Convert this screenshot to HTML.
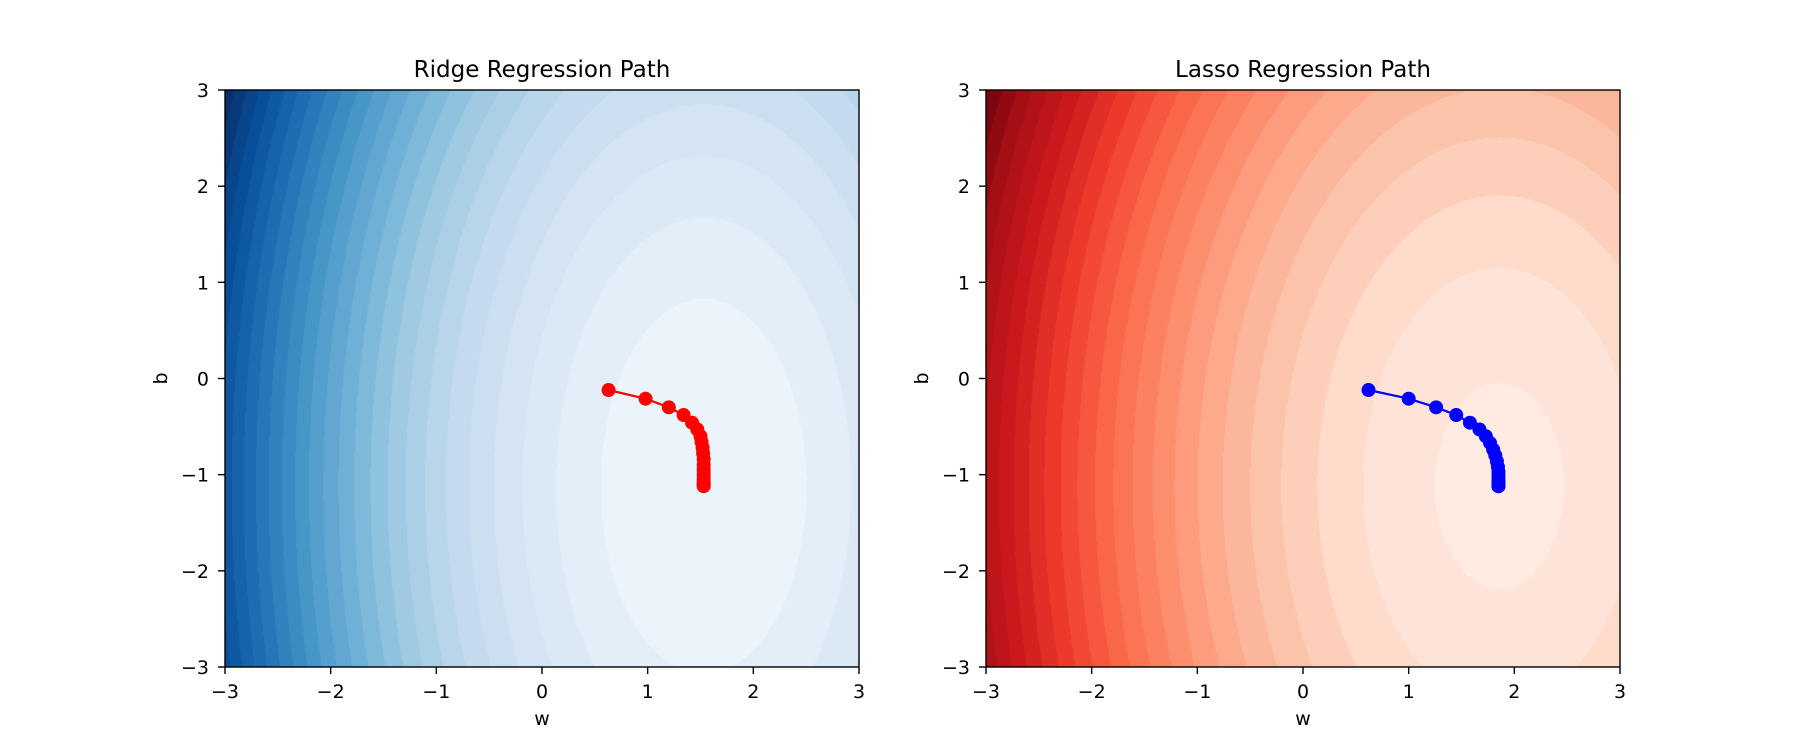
<!DOCTYPE html>
<html><head><meta charset="utf-8">
<style>
html,body{margin:0;padding:0;background:#fff;}
#wrap{position:relative;width:1800px;height:750px;overflow:hidden;font-family:"DejaVu Sans","Liberation Sans",sans-serif;}
canvas{position:absolute;}
svg{position:absolute;left:0;top:0;}
</style></head>
<body>
<div id="wrap">
<canvas id="c1" width="634" height="577" style="left:225px;top:90px"></canvas>
<canvas id="c2" width="634" height="577" style="left:986px;top:90px"></canvas>
<svg id="svg" width="1800" height="750"></svg>
</div>
<script>
const xTicks=[-3,-2,-1,0,1,2,3];
const yTicks=[-3,-2,-1,0,1,2,3];
const tickLabels=["−3","−2","−1","0","1","2","3"];
const ridgeW=[0.63,0.98,1.2,1.34,1.42,1.47,1.5,1.51,1.52,1.525,1.53,1.53,1.53,1.53,1.53,1.53,1.53,1.53,1.53,1.53];
const ridgeB=[-0.12,-0.21,-0.3,-0.38,-0.46,-0.53,-0.6,-0.66,-0.72,-0.78,-0.84,-0.9,-0.95,-1.0,-1.04,-1.07,-1.09,-1.1,-1.11,-1.12];
const lassoW=[0.62,1.0,1.26,1.45,1.58,1.67,1.73,1.77,1.8,1.82,1.835,1.845,1.85,1.85,1.85,1.85,1.85,1.85,1.85,1.85];
const lassoB=[-0.12,-0.21,-0.3,-0.38,-0.46,-0.53,-0.6,-0.67,-0.74,-0.8,-0.86,-0.92,-0.97,-1.01,-1.05,-1.08,-1.1,-1.11,-1.12,-1.12];
const ridgeParams=[4,1.53,-1.12,3.8];
const lassoParams=[3.08,1.86,-1.12,1.15];
const blues=["#f7fbff","#deebf7","#c6dbef","#9ecae1","#6baed6","#4292c6","#2171b5","#08519c","#08306b"];
const reds=["#fff5f0","#fee0d2","#fcbba1","#fc9272","#fb6a4a","#ef3b2c","#cb181d","#a50f15","#67000d"];

const AX_W=634,AX_H=577,AX_T=90;
const panels=[{left:225,canvas:'c1',title:'Ridge Regression Path',p:ridgeParams,cmap:blues,W:ridgeW,B:ridgeB,color:'#ff0000',key:'ridge'},
              {left:986,canvas:'c2',title:'Lasso Regression Path',p:lassoParams,cmap:reds,W:lassoW,B:lassoB,color:'#0000ff',key:'lasso'}];
function hex(h){return [parseInt(h.slice(1,3),16),parseInt(h.slice(3,5),16),parseInt(h.slice(5,7),16)];}
function cmapAt(cm,t){t=Math.max(0,Math.min(1,t));const s=t*(cm.length-1);const i=Math.min(cm.length-2,Math.floor(s));const f=s-i;const a=hex(cm[i]),b=hex(cm[i+1]);return [a[0]+(b[0]-a[0])*f,a[1]+(b[1]-a[1])*f,a[2]+(b[2]-a[2])*f];}
const NS='http://www.w3.org/2000/svg';
const svg=document.getElementById('svg');
function mk(tag,attrs,parent){const e=document.createElementNS(NS,tag);for(const k in attrs)e.setAttribute(k,attrs[k]);(parent||svg).appendChild(e);return e;}

panels.forEach(P=>{
  const sx=v=>P.left+(v+3)/6*AX_W;
  const sy=v=>AX_T+(3-v)/6*AX_H;
  const [A,w0,b0,L1]=P.p;
  const loss=(w,b)=>A*(w-w0)*(w-w0)+(b-b0)*(b-b0);
  const maxV=loss(-3,3);
  const nB=Math.ceil((maxV-L1)/4);
  const cv=document.getElementById(P.canvas);const ctx=cv.getContext('2d');
  const img=ctx.createImageData(AX_W,AX_H);
  const cols=[];for(let k=0;k<=nB;k++)cols.push(cmapAt(P.cmap,0.06+0.94*k/nB));
  for(let y=0;y<AX_H;y++){const b=3-(y+0.5)/AX_H*6;
    for(let x=0;x<AX_W;x++){const w=-3+(x+0.5)/AX_W*6;const v=loss(w,b);
      let k=v<L1?0:Math.floor((v-L1)/4)+1;if(k>nB)k=nB;const c=cols[k];const i=(y*AX_W+x)*4;
      img.data[i]=c[0];img.data[i+1]=c[1];img.data[i+2]=c[2];img.data[i+3]=255;}}
  ctx.putImageData(img,0,0);

  const g=mk('g',{});
  
  
  let d='';P.W.forEach((w,i)=>{d+=(i?'L':'M')+sx(w).toFixed(1)+' '+sy(P.B[i]).toFixed(1);});
  const ln=mk('path',{d:d,fill:'none',stroke:P.color,'stroke-width':2.2},g);
  
  
  P.W.forEach((w,i)=>{const c=mk('circle',{cx:sx(w),cy:sy(P.B[i]),r:7,fill:P.color},g);
    
    });
  const fr=mk('rect',{x:P.left,y:AX_T,width:AX_W,height:AX_H,fill:'none',stroke:'#000','stroke-width':1.4},g);
  
  
  xTicks.forEach((t,i)=>{const x=sx(t);
    mk('line',{x1:x,x2:x,y1:AX_T+AX_H,y2:AX_T+AX_H+7,stroke:'#000','stroke-width':1.4},g);
    const tx=mk('text',{x:x,y:698,'font-size':19,'text-anchor':'middle',fill:'#000'},g);tx.textContent=tickLabels[i];
    
    });
  yTicks.forEach((t,i)=>{const y=sy(t);
    mk('line',{x1:P.left-7,x2:P.left,y1:y,y2:y,stroke:'#000','stroke-width':1.4},g);
    const tx=mk('text',{x:P.left-16,y:y+7,'font-size':19,'text-anchor':'end',fill:'#000'},g);tx.textContent=tickLabels[i];
    
    });
  const ti=mk('text',{x:P.left+AX_W/2,y:77,'font-size':23,'text-anchor':'middle',fill:'#000'},g);ti.textContent=P.title;
  
  
  const xl=mk('text',{x:P.left+AX_W/2,y:725,'font-size':19,'text-anchor':'middle',fill:'#000'},g);xl.textContent='w';
  
  
  const yl=mk('text',{x:0,y:0,'font-size':19,'text-anchor':'middle',fill:'#000',transform:'translate('+(P.left-58)+','+(AX_T+AX_H/2)+') rotate(-90)'},g);yl.textContent='b';
  
  
});
</script>
</body></html>
